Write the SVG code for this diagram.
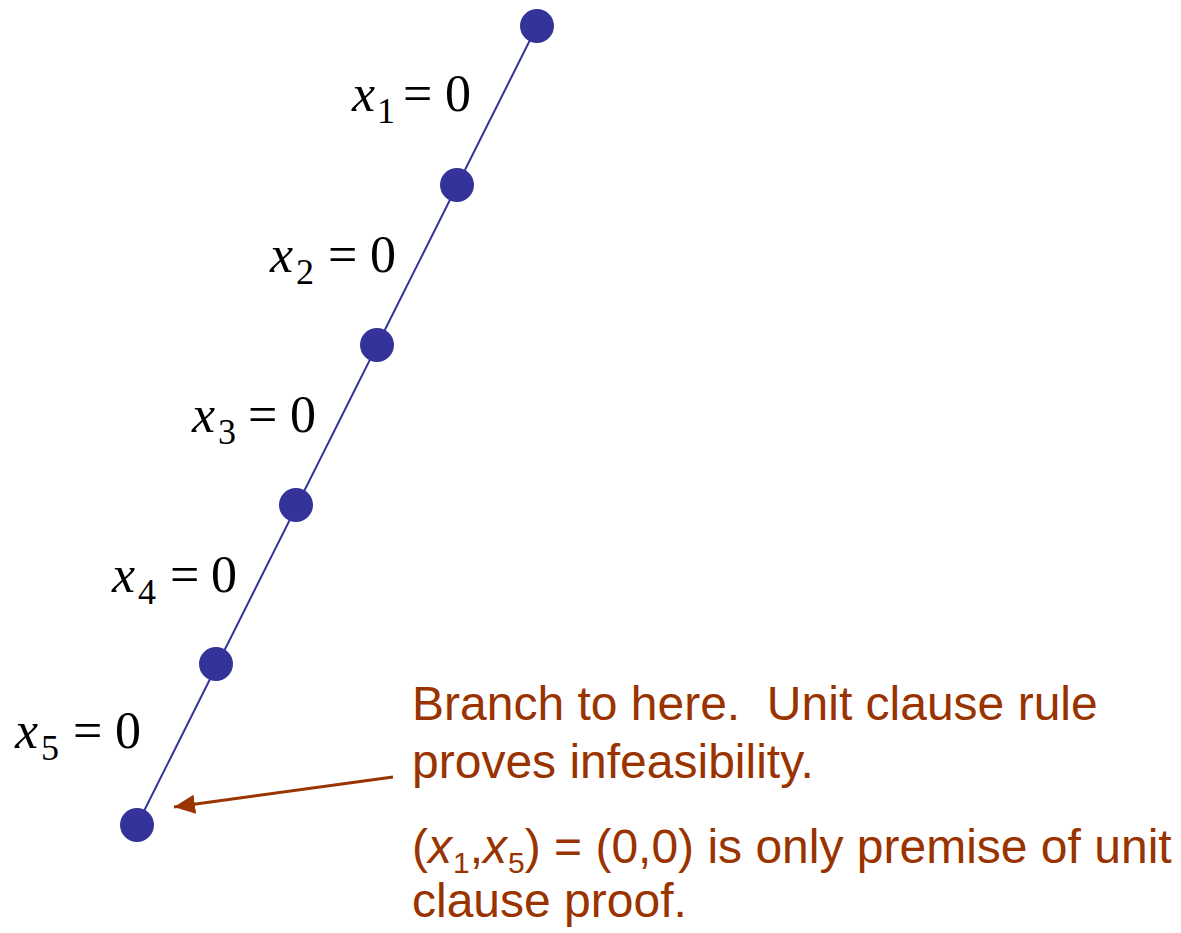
<svg xmlns="http://www.w3.org/2000/svg" width="1181" height="933" viewBox="0 0 1181 933">
<defs>
<style>
.node{fill:#333399;}
.edge{stroke:#333399;stroke-width:2;fill:none;}
.m{font-family:"Liberation Serif","Times New Roman",serif;font-size:52px;fill:#000;}
.mi{font-style:italic;}
.ms{font-size:36px;}
.t{font-family:"Liberation Sans",Arial,sans-serif;font-size:48px;fill:#993300;}
.arr{stroke:#993300;stroke-width:3;fill:none;}
</style>
<marker id="ah" markerWidth="8" markerHeight="8" refX="7" refY="4" orient="auto" markerUnits="strokeWidth"><path d="M0,0.8 L7,4 L0,7.2 Z" fill="#993300"/></marker>
</defs>
<rect width="1181" height="933" fill="#fff"/>
<g id="connectors">
<line class="edge" x1="537" y1="26" x2="137" y2="825"/>
<line class="arr" x1="393" y1="777" x2="174" y2="807" marker-end="url(#ah)"/>
</g>
<g id="n0"><circle class="node" cx="537" cy="26" r="17"/></g>
<g id="n1"><circle class="node" cx="457" cy="185" r="17"/></g>
<g id="n2"><circle class="node" cx="377" cy="345" r="17"/></g>
<g id="n3"><circle class="node" cx="296" cy="505" r="17"/></g>
<g id="n4"><circle class="node" cx="216" cy="664" r="17"/></g>
<g id="n5"><circle class="node" cx="137" cy="825" r="17"/></g>
<g id="label1"><text class="m"><tspan class="mi" x="352" y="111">x</tspan><tspan class="ms" x="377" y="123">1</tspan><tspan x="403" y="111">=</tspan><tspan x="445" y="111">0</tspan></text></g>
<g id="label2"><text class="m"><tspan class="mi" x="270" y="272">x</tspan><tspan class="ms" x="296" y="284">2</tspan><tspan x="328" y="272">=</tspan><tspan x="370" y="272">0</tspan></text></g>
<g id="label3"><text class="m"><tspan class="mi" x="192" y="432">x</tspan><tspan class="ms" x="218" y="444">3</tspan><tspan x="248" y="432">=</tspan><tspan x="290" y="432">0</tspan></text></g>
<g id="label4"><text class="m"><tspan class="mi" x="112" y="592">x</tspan><tspan class="ms" x="138" y="604">4</tspan><tspan x="170" y="592">=</tspan><tspan x="211" y="592">0</tspan></text></g>
<g id="label5"><text class="m"><tspan class="mi" x="15" y="748">x</tspan><tspan class="ms" x="41" y="760">5</tspan><tspan x="73" y="748">=</tspan><tspan x="115" y="748">0</tspan></text></g>
<g id="note">
<text class="t" x="412" y="720" xml:space="preserve">Branch to here.  Unit clause rule</text>
<text class="t" x="412" y="778">proves infeasibility.</text>
<text class="t" x="412" y="863">(<tspan font-style="italic">x</tspan><tspan font-size="30" dx="1" dy="10">1</tspan><tspan dy="-10">,</tspan><tspan font-style="italic">x</tspan><tspan font-size="30" dx="1" dy="10">5</tspan><tspan dy="-10">) = (0,0) is only premise of unit</tspan></text>
<text class="t" x="412" y="917">clause proof.</text>
</g>
</svg>
